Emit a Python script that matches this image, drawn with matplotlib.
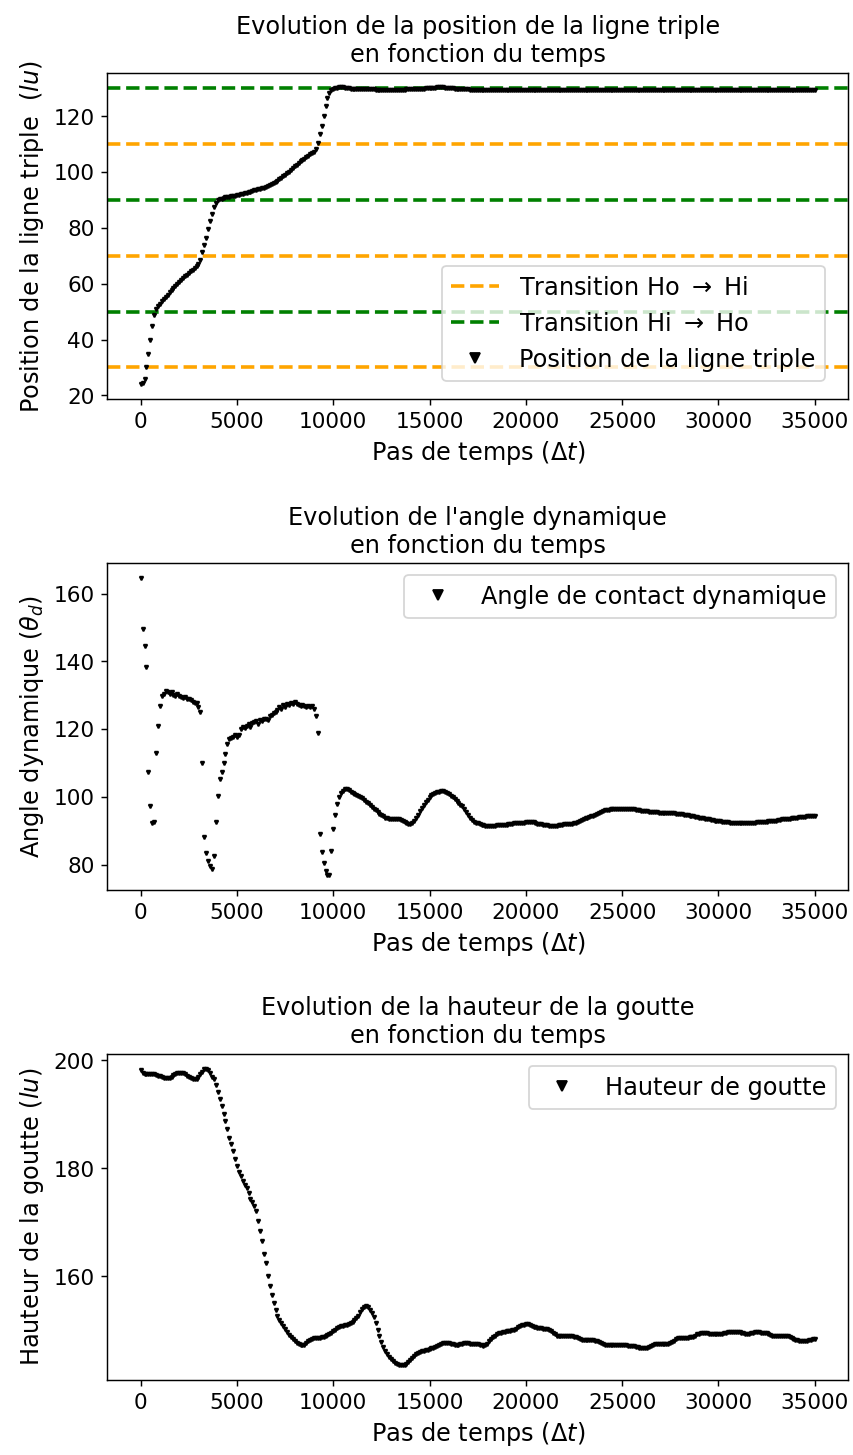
import numpy as np
import matplotlib
matplotlib.use('Agg')
import matplotlib.pyplot as plt

# pas de temps (un point tous les 100 dt)
temps = np.arange(0, 35001, 100)

# position de la ligne triple (lu)
position = [
    24.0, 24.5, 26.0, 30.0, 34.8, 39.8, 44.7, 48.8, 51.0, 52.0,
    52.8, 53.7, 54.5, 55.3, 56.1, 56.9, 57.7, 58.5, 59.3, 60.0,
    60.7, 61.4, 62.0, 62.6, 63.2, 63.8, 64.4, 65.0, 65.6, 66.2,
    67.0, 68.5, 71.5, 74.0, 76.5, 79.5, 82.5, 85.0, 87.5, 89.0,
    90.0, 90.3, 90.5, 90.7, 90.9, 91.0, 91.1, 91.3, 91.4, 91.6,
    91.8, 91.9, 92.1, 92.3, 92.4, 92.6, 92.8, 93.0, 93.2, 93.4,
    93.6, 93.8, 94.0, 94.2, 94.4, 94.6, 94.9, 95.3, 95.7, 96.0,
    96.4, 96.9, 97.4, 97.9, 98.5, 99.0, 99.6, 100.2, 100.8, 101.4,
    102.0, 102.6, 103.2, 103.8, 104.3, 104.8, 105.3, 105.8, 106.3, 106.8,
    107.3, 108.2, 110.5, 113.5, 116.5, 120.0, 123.5, 126.5, 128.5, 129.5,
    129.9, 130.1, 130.2, 130.3, 130.3, 130.3, 130.2, 130.1, 130.0, 129.9,
    129.8, 129.7, 129.7, 129.6, 129.6, 129.6, 129.6, 129.6, 129.6, 129.6,
    129.6, 129.6, 129.5, 129.5, 129.5, 129.5, 129.5, 129.5, 129.5, 129.5,
    129.5, 129.5, 129.5, 129.5, 129.5, 129.5, 129.5, 129.5, 129.6, 129.6,
    129.6, 129.6, 129.7, 129.7, 129.8, 129.8, 129.9, 129.9, 130.0, 130.0,
    130.1, 130.1, 130.2, 130.2, 130.3, 130.3, 130.3, 130.3, 130.2, 130.2,
    130.1, 130.0, 130.0, 129.9, 129.8, 129.8, 129.7, 129.7, 129.6, 129.6,
    129.6, 129.5, 129.5, 129.5, 129.5, 129.5, 129.5, 129.5, 129.5, 129.4,
    129.4, 129.4, 129.4, 129.4, 129.4, 129.4, 129.4, 129.4, 129.4, 129.4,
    129.4, 129.4, 129.5, 129.5, 129.5, 129.5, 129.5, 129.5, 129.5, 129.5,
    129.5, 129.5, 129.5, 129.5, 129.5, 129.5, 129.5, 129.4, 129.4, 129.4,
    129.4, 129.4, 129.4, 129.4, 129.4, 129.4, 129.4, 129.4, 129.4, 129.4,
    129.4, 129.4, 129.4, 129.4, 129.4, 129.4, 129.4, 129.4, 129.5, 129.5,
    129.5, 129.5, 129.5, 129.5, 129.5, 129.5, 129.5, 129.5, 129.5, 129.5,
    129.5, 129.5, 129.5, 129.5, 129.5, 129.5, 129.5, 129.5, 129.5, 129.5,
    129.5, 129.5, 129.5, 129.5, 129.5, 129.5, 129.5, 129.5, 129.5, 129.5,
    129.5, 129.5, 129.5, 129.5, 129.4, 129.4, 129.4, 129.4, 129.4, 129.4,
    129.4, 129.4, 129.4, 129.4, 129.4, 129.4, 129.5, 129.5, 129.5, 129.5,
    129.5, 129.5, 129.5, 129.5, 129.5, 129.5, 129.5, 129.5, 129.5, 129.5,
    129.5, 129.5, 129.5, 129.5, 129.5, 129.5, 129.5, 129.5, 129.5, 129.5,
    129.5, 129.5, 129.5, 129.5, 129.5, 129.5, 129.5, 129.5, 129.5, 129.5,
    129.5, 129.5, 129.5, 129.5, 129.5, 129.5, 129.5, 129.5, 129.5, 129.5,
    129.5, 129.5, 129.5, 129.5, 129.5, 129.5, 129.5, 129.5, 129.5, 129.5,
    129.5, 129.5, 129.5, 129.5, 129.5, 129.5, 129.5, 129.5, 129.5, 129.5,
    129.5, 129.5, 129.5, 129.5, 129.5, 129.5, 129.5, 129.5, 129.5, 129.5,
    129.5,
]

# angle de contact dynamique
angle = [
    164.6, 149.4, 144.6, 138.3, 107.3, 97.4, 92.3, 92.5, 113.0, 121.0,
    126.8, 129.7, 130.5, 131.3, 131.0, 130.4, 131.0, 130.2, 129.9, 130.3,
    129.8, 129.6, 129.3, 129.5, 129.0, 128.8, 128.5, 128.0, 127.6, 127.8,
    126.5, 125.0, 110.0, 88.0, 83.5, 81.0, 79.5, 78.7, 82.6, 92.6,
    100.3, 105.3, 107.4, 110.1, 112.5, 115.5, 117.0, 117.5, 117.8, 118.2,
    117.8, 118.2, 120.0, 120.7, 120.3, 121.0, 121.5, 120.6, 121.7, 122.0,
    122.3, 121.5, 122.8, 122.5, 123.0, 123.1, 122.6, 124.0, 124.3, 124.8,
    125.1, 125.6, 126.5, 126.0, 127.0, 126.6, 127.3, 127.0, 127.8, 127.5,
    127.9, 127.5, 127.2, 126.8, 127.0, 126.7, 126.4, 126.7, 126.5, 126.7,
    126.0, 123.8, 118.8, 89.1, 83.6, 80.5, 78.0, 77.0, 77.0, 83.9,
    90.5, 94.5, 97.8, 99.9, 101.0, 101.8, 102.2, 102.3, 102.0, 101.5,
    101.1, 100.8, 100.5, 100.1, 99.9, 99.5, 99.1, 98.6, 98.1, 97.5,
    96.9, 96.5, 96.0, 95.5, 95.0, 94.6, 94.2, 93.8, 93.6, 93.5,
    93.4, 93.4, 93.4, 93.3, 93.3, 93.2, 93.0, 92.7, 92.3, 92.1,
    92.1, 92.4, 93.0, 93.6, 94.6, 95.8, 96.8, 97.7, 98.5, 99.2,
    99.9, 100.5, 100.9, 101.2, 101.4, 101.5, 101.6, 101.6, 101.5, 101.2,
    100.8, 100.3, 99.8, 99.3, 98.8, 98.3, 97.7, 97.2, 96.5, 95.6,
    94.6, 93.7, 93.1, 92.7, 92.4, 92.2, 92.0, 91.8, 91.6, 91.5,
    91.4, 91.3, 91.3, 91.4, 91.5, 91.6, 91.7, 91.7, 91.7, 91.7,
    91.8, 91.9, 92.0, 92.1, 92.2, 92.3, 92.3, 92.3, 92.3, 92.4,
    92.5, 92.6, 92.7, 92.6, 92.5, 92.3, 92.1, 92.0, 91.9, 91.8,
    91.7, 91.6, 91.5, 91.5, 91.5, 91.5, 91.5, 91.6, 91.7, 91.8,
    91.9, 92.0, 92.0, 92.1, 92.1, 92.2, 92.4, 92.6, 92.9, 93.2,
    93.4, 93.6, 93.8, 94.0, 94.2, 94.4, 94.7, 95.0, 95.3, 95.6,
    95.8, 96.0, 96.1, 96.2, 96.3, 96.4, 96.4, 96.4, 96.4, 96.4,
    96.4, 96.4, 96.4, 96.4, 96.4, 96.4, 96.3, 96.2, 96.1, 96.0,
    95.9, 95.8, 95.7, 95.7, 95.6, 95.6, 95.5, 95.4, 95.4, 95.3,
    95.3, 95.3, 95.3, 95.2, 95.2, 95.2, 95.1, 95.1, 95.0, 95.0,
    94.9, 94.8, 94.7, 94.6, 94.5, 94.4, 94.3, 94.2, 94.0, 93.9,
    93.8, 93.7, 93.6, 93.5, 93.4, 93.3, 93.2, 93.1, 93.0, 93.0,
    92.9, 92.8, 92.7, 92.6, 92.6, 92.5, 92.4, 92.4, 92.3, 92.3,
    92.3, 92.3, 92.3, 92.3, 92.3, 92.3, 92.3, 92.3, 92.3, 92.4,
    92.5, 92.5, 92.6, 92.6, 92.7, 92.7, 92.8, 92.9, 92.9, 93.0,
    93.0, 93.1, 93.2, 93.3, 93.3, 93.4, 93.5, 93.5, 93.6, 93.7,
    93.8, 93.8, 93.9, 94.0, 94.0, 94.1, 94.2, 94.2, 94.3, 94.3,
    94.4,
]

# hauteur de la goutte (lu)
hauteur = [
    198.2, 197.7, 197.5, 197.5, 197.5, 197.5, 197.4, 197.4, 197.3, 197.2,
    197.1, 196.9, 196.8, 196.7, 196.7, 196.8, 197.0, 197.3, 197.5, 197.7,
    197.7, 197.7, 197.6, 197.4, 197.2, 197.0, 196.8, 196.6, 196.5, 196.6,
    196.9, 197.4, 197.9, 198.4, 198.5, 198.2, 197.6, 197.0, 196.6, 195.4,
    194.1, 192.9, 191.6, 190.0, 188.8, 187.3, 185.6, 184.5, 183.2, 181.8,
    180.5, 179.4, 178.5, 177.7, 177.0, 176.3, 175.4, 174.4, 173.8, 173.0,
    172.0, 170.3, 168.4, 166.5, 164.2, 162.5, 160.1, 158.1, 156.6, 155.0,
    153.7, 152.6, 151.9, 151.3, 150.7, 150.2, 149.6, 149.1, 148.7, 148.3,
    148.0, 147.7, 147.4, 147.2, 147.2, 147.3, 147.6, 147.9, 148.2, 148.4,
    148.5, 148.6, 148.6, 148.6, 148.7, 148.8, 148.9, 149.1, 149.2, 149.5,
    149.8, 150.1, 150.4, 150.6, 150.7, 150.8, 150.9, 151.0, 151.1, 151.3,
    151.6, 151.9, 152.2, 152.7, 153.3, 153.9, 154.3, 154.5, 154.3, 153.8,
    153.2, 152.4, 151.3, 150.0, 148.9, 147.8, 146.8, 146.1, 145.5, 145.0,
    144.6, 144.3, 144.0, 143.8, 143.6, 143.5, 143.5, 143.6, 143.8, 144.1,
    144.5, 144.9, 145.2, 145.5, 145.8, 146.0, 146.1, 146.2, 146.3, 146.4,
    146.5, 146.6, 146.7, 146.8, 147.0, 147.2, 147.4, 147.6, 147.7, 147.7,
    147.6, 147.5, 147.4, 147.3, 147.3, 147.3, 147.4, 147.5, 147.6, 147.6,
    147.6, 147.5, 147.4, 147.4, 147.4, 147.4, 147.3, 147.2, 147.1, 147.2,
    147.5, 147.9, 148.3, 148.7, 149.0, 149.2, 149.4, 149.5, 149.6, 149.7,
    149.8, 149.9, 149.9, 150.0, 150.1, 150.3, 150.5, 150.7, 150.9, 151.0,
    151.1, 151.1, 151.0, 150.8, 150.6, 150.5, 150.4, 150.4, 150.4, 150.3,
    150.3, 150.3, 150.1, 149.8, 149.5, 149.2, 149.0, 148.9, 148.9, 148.9,
    148.9, 148.9, 148.9, 148.9, 148.9, 148.8, 148.7, 148.5, 148.3, 148.2,
    148.1, 148.1, 148.1, 148.1, 148.1, 148.1, 148.0, 147.9, 147.8, 147.6,
    147.4, 147.3, 147.2, 147.2, 147.2, 147.2, 147.2, 147.2, 147.2, 147.2,
    147.2, 147.2, 147.2, 147.1, 147.1, 147.0, 147.0, 146.9, 146.8, 146.7,
    146.6, 146.6, 146.6, 146.7, 146.9, 147.1, 147.3, 147.4, 147.5, 147.5,
    147.5, 147.5, 147.5, 147.5, 147.5, 147.6, 147.8, 148.0, 148.3, 148.5,
    148.6, 148.6, 148.6, 148.6, 148.6, 148.7, 148.7, 148.8, 149.0, 149.2,
    149.3, 149.4, 149.4, 149.4, 149.4, 149.3, 149.3, 149.3, 149.3, 149.2,
    149.2, 149.2, 149.3, 149.4, 149.5, 149.6, 149.7, 149.7, 149.7, 149.7,
    149.7, 149.6, 149.5, 149.4, 149.3, 149.3, 149.3, 149.4, 149.5, 149.6,
    149.6, 149.6, 149.5, 149.5, 149.5, 149.4, 149.3, 149.1, 148.9, 148.9,
    148.9, 148.9, 148.9, 148.9, 148.9, 148.9, 148.9, 148.7, 148.5, 148.3,
    148.2, 148.1, 148.0, 148.0, 148.0, 148.0, 148.0, 148.1, 148.2, 148.3,
    148.3,
]

# niveaux des transitions de mouillabilite
trans_ho_hi = [30, 70, 110]
trans_hi_ho = [50, 90, 130]

plt.rcParams['xtick.labelsize'] = 12
plt.rcParams['ytick.labelsize'] = 12
plt.rcParams['axes.labelsize'] = 13.3
plt.rcParams['axes.titlesize'] = 13.3
plt.rcParams['legend.fontsize'] = 13.3

fig, axs = plt.subplots(3, 1, figsize=(853.4/130, 1455.4/130), dpi=130)
fig.subplots_adjust(left=0.1254, right=0.9941, top=0.9498, bottom=0.0515, hspace=0.503)

ms = 2.0

# --- position de la ligne triple
ax = axs[0]
for i, y in enumerate(trans_ho_hi):
    ax.axhline(y, color='orange', ls='--', lw=2,
               label=r'Transition Ho $\rightarrow$ Hi' if i == 0 else None)
for i, y in enumerate(trans_hi_ho):
    ax.axhline(y, color='green', ls='--', lw=2,
               label=r'Transition Hi $\rightarrow$ Ho' if i == 0 else None)
ax.plot(temps, position, 'v', color='k', ms=ms, label='Position de la ligne triple')
ax.set_title('Evolution de la position de la ligne triple\nen fonction du temps')
ax.set_xlabel(r'Pas de temps ($\Delta t$)')
ax.set_ylabel(r'Position de la ligne triple  ($lu$)')
ax.legend(loc='lower right', bbox_to_anchor=(0.968, 0.056), borderaxespad=0,
          markerscale=2.6)

# --- angle dynamique
ax = axs[1]
ax.plot(temps, angle, 'v', color='k', ms=ms, label='Angle de contact dynamique')
ax.set_title("Evolution de l'angle dynamique\nen fonction du temps")
ax.set_xlabel(r'Pas de temps ($\Delta t$)')
ax.set_ylabel(r'Angle dynamique ($\theta_d$)')
ax.legend(loc='upper right', markerscale=2.6)

# --- hauteur de la goutte
ax = axs[2]
ax.plot(temps, hauteur, 'v', color='k', ms=ms, label='Hauteur de goutte')
ax.set_title('Evolution de la hauteur de la goutte\nen fonction du temps')
ax.set_xlabel(r'Pas de temps ($\Delta t$)')
ax.set_ylabel(r'Hauteur de la goutte ($lu$)')
ax.set_yticks([160, 180, 200])
ax.legend(loc='upper right', markerscale=2.6)

fig.savefig('out.png', dpi=130)
